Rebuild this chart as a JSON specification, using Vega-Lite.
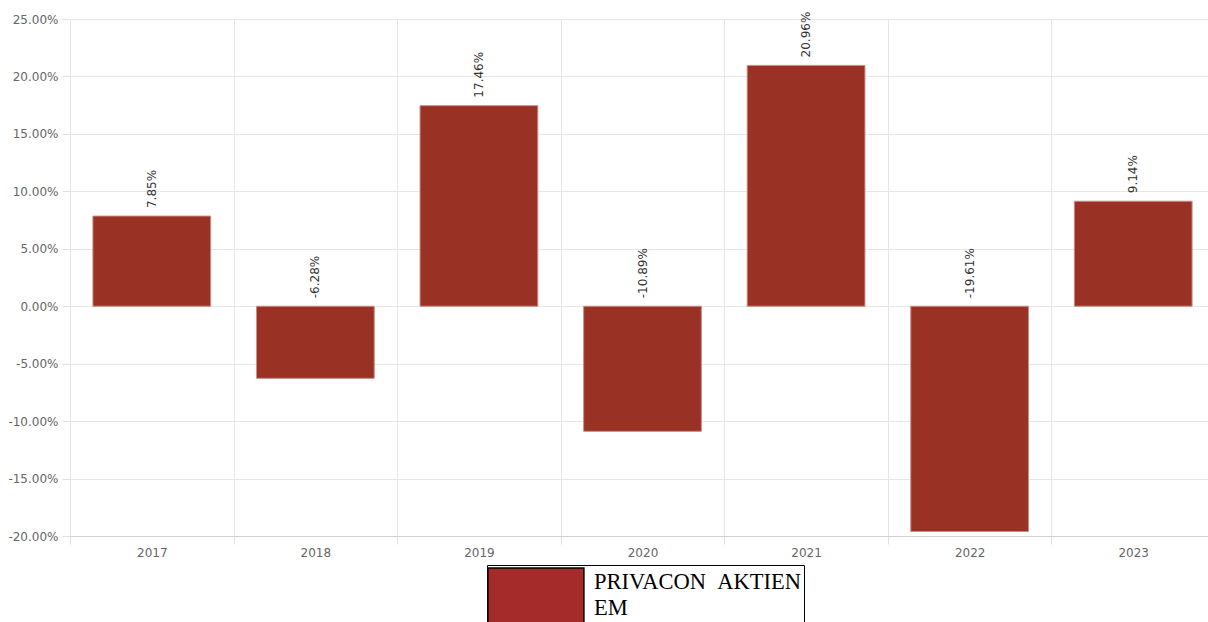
{
  "$schema": "https://vega.github.io/schema/vega-lite/v6.json",
  "width": 1138,
  "height": 517,
  "autosize": {"type": "none"},
  "padding": {"left": 70, "top": 19, "right": 0, "bottom": 86},
  "background": "white",
  "config": {
    "view": {"stroke": null},
    "axis": {"labelFont": "DejaVu Sans", "labelFontSize": 12, "labelColor": "#666666", "gridColor": "#e6e6e6", "tickColor": "#e0e0e0", "domainColor": "#d0d0d0", "title": null}
  },
  "data": {
    "values": [
      {"year": "2017", "value": 7.85, "series": "PRIVACON AKTIEN EM"},
      {"year": "2018", "value": -6.28, "series": "PRIVACON AKTIEN EM"},
      {"year": "2019", "value": 17.46, "series": "PRIVACON AKTIEN EM"},
      {"year": "2020", "value": -10.89, "series": "PRIVACON AKTIEN EM"},
      {"year": "2021", "value": 20.96, "series": "PRIVACON AKTIEN EM"},
      {"year": "2022", "value": -19.61, "series": "PRIVACON AKTIEN EM"},
      {"year": "2023", "value": 9.14, "series": "PRIVACON AKTIEN EM"}
    ]
  },
  "transform": [
    {"calculate": "replace(format(datum.value, '.2f'), '\u2212', '-') + '%'", "as": "label"},
    {"calculate": "max(datum.value, 0)", "as": "labelY"}
  ],
  "layer": [
    {
      "mark": {"type": "bar", "width": {"band": 0.72}, "fill": "#993124", "stroke": "#c98f86", "strokeWidth": 1},
      "encoding": {
        "x": {
          "field": "year", "type": "ordinal",
          "scale": {"paddingInner": 0, "paddingOuter": 0, "range": [0, 1145]},
          "axis": {"labelAngle": 0, "tickBand": "extent", "grid": true, "tickSize": 8, "labelPadding": 3, "domain": true}
        },
        "y": {
          "field": "value", "type": "quantitative",
          "scale": {"domain": [-20, 25], "nice": false, "zero": false},
          "axis": {"values": [-20, -15, -10, -5, 0, 5, 10, 15, 20, 25], "labelExpr": "replace(format(datum.value, '.2f'), '\u2212', '-') + '%'", "domain": false, "tickSize": 8, "labelPadding": 4, "grid": true}
        }
      }
    },
    {
      "mark": {"type": "text", "angle": 270, "align": "left", "baseline": "middle", "dx": 8, "font": "DejaVu Sans", "fontSize": 12, "color": "#333333"},
      "encoding": {
        "x": {"field": "year", "type": "ordinal"},
        "y": {"field": "labelY", "type": "quantitative"},
        "text": {"field": "label"}
      }
    },
    {
      "mark": {"type": "bar", "width": {"band": 0.72}, "strokeWidth": 0},
      "encoding": {
        "x": {"field": "year", "type": "ordinal"},
        "y": {"datum": 0},
        "y2": {"datum": 0},
        "color": {
          "field": "series", "type": "nominal",
          "scale": {"range": ["#a52a2a"]},
          "legend": {
            "orient": "none", "legendX": 417, "legendY": 546, "title": null,
            "symbolType": "M-1.07,-1H2.13V1H-1.07Z", "symbolSize": 3600,
            "symbolStrokeColor": "black", "symbolStrokeWidth": 1.5,
            "labelFont": "Liberation Serif", "labelFontSize": 22.5, "labelColor": "black",
            "labelLimit": 500, "labelOffset": 43, "labelExpr": "['PRIVACON\u00a0\u00a0AKTIEN', 'EM']",
            "strokeColor": "black", "padding": 2,
            "encode": {
              "symbols": {"update": {"stroke": {"value": "black"}, "opacity": {"value": 1}}},
              "labels": {"update": {"lineHeight": {"value": 26}, "dy": {"value": -16}}}
            }
          }
        }
      }
    }
  ]
}
